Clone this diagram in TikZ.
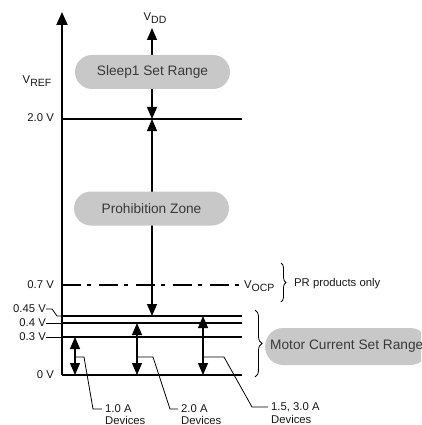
\documentclass[tikz,border=0pt]{standalone}
\usepackage{fontspec}
\setmainfont{Liberation Sans}
\usetikzlibrary{arrows.meta,positioning,shapes.misc,decorations.pathreplacing}
\definecolor{pillgray}{HTML}{C8C8C8}
\definecolor{ink}{HTML}{161616}
\newcommand{\vsub}[1]{V\raisebox{-3.5pt}{\fontsize{10.5}{10.5}\selectfont #1}}

\begin{document}
\begin{tikzpicture}[x=1pt, y=-1pt, every node/.style={font=\fontsize{11.3}{12.5}\selectfont, text=ink, inner sep=0pt},
  level/.style={line width=2.2pt},
  lead/.style={line width=0.8pt},
  biarrow/.style={line width=1.1pt, {Triangle[length=12pt,width=10pt]}-{Triangle[length=12pt,width=10pt]}},
  pill/.style={fill=pillgray, rounded corners=17pt, minimum height=34pt, font=\fontsize{13.7}{15}\selectfont, text=ink!85},
  devlbl/.style={anchor=west, inner xsep=3pt},
  curly/.style={decorate, decoration={brace, amplitude=5pt}, line width=0.8pt}]
\useasboundingbox (0,0) rectangle (421,425);
\clip (0,0) rectangle (421,425);
% V_REF axis
\coordinate (o) at (62,375);
\coordinate (top) at (62,12);
\draw[line width=1.8pt, -{Triangle[length=13pt,width=11pt]}] (o) -- (top);
\node (vref) at (37,81) {\vsub{REF}};
% voltage levels
\foreach \name/\y in {v20/119, v045/316, v04/323, v03/337, v0/375} { \draw[level] (62,\y) coordinate (\name) -- (242,\y) coordinate (\name-r); }
\draw[line width=1.8pt, dash pattern=on 19pt off 6pt on 4pt off 8pt] (62,285) coordinate (v07) -- (242,285) coordinate (v07-r);
\node[anchor=east] (l20) at (54,118) {2.0 V};
\node[anchor=east] (l07) at (54,285) {0.7 V};
\node[anchor=east] (l045) at (46,309) {0.45 V};
\node[anchor=east] (l04) at (46,323) {0.4 V};
\node[anchor=east] (l03) at (46,337) {0.3 V};
\node[anchor=east] (l0) at (54,375) {0 V};
\draw[lead] (l045.east) -- ++(6,0) -- (57,316) -- (v045);
\draw[lead] (l04.east) -- (v04);
\draw[lead] (l03.east) -- (v03);
% V_DD line through the zones
\coordinate (dd) at (152,28);
\node (vdd) at (155,18) {\vsub{DD}};
\draw[biarrow] (dd |- v20) -- (dd);
\draw[biarrow] (dd |- v20) -- (dd |- v045);
\node[pill, minimum width=155pt] (sleep) at (152.5,72) {Sleep1 Set Range};
\node[pill, minimum width=155pt] (prohib) at (151.5,208.5) {Prohibition Zone};
% V_OCP note
\node[anchor=west] (vocp) at (244,286) {\vsub{OCP}};
\draw[curly] (281,263) -- (281,302);
\node[anchor=west] (pr) at (294,284) {PR products only};
% motor current ranges
\coordinate (a1) at (75,357);
\coordinate (a2) at (137,357);
\coordinate (a3) at (203,357);
\draw[biarrow] (a1 |- v03) -- (a1 |- v0);
\draw[biarrow] (a2 |- v04) -- (a2 |- v0);
\draw[biarrow] (a3 |- v045) -- (a3 |- v0);
\node[devlbl] (d1) at (102,409) {1.0 A};
\node[anchor=north west] (d1b) at ([xshift=3pt, yshift=-3pt]d1.south west) {Devices};
\node[devlbl] (d2) at (178,409) {2.0 A};
\node[anchor=north west] (d2b) at ([xshift=3pt, yshift=-3pt]d2.south west) {Devices};
\node[devlbl] (d3) at (268,407) {1.5, 3.0 A};
\node[anchor=north west] (d3b) at ([xshift=3pt, yshift=-3pt]d3.south west) {Devices};
\draw[lead] (a1) -- ++(9,0) -- (93,409) -- (d1.west);
\draw[lead] (a2) -- ++(16,0) -- (170,409) -- (d2.west);
\draw[lead] (a3) -- ++(21,0) -- (252,407) -- (d3.west);
\draw[curly, decoration={amplitude=7pt}] (255,310) -- (255,377);
\node[pill, anchor=west, minimum height=37pt, inner xsep=5pt, rounded corners=18pt] (motor) at (265,346.5) {Motor Current Set Range};
\end{tikzpicture}
\end{document}
